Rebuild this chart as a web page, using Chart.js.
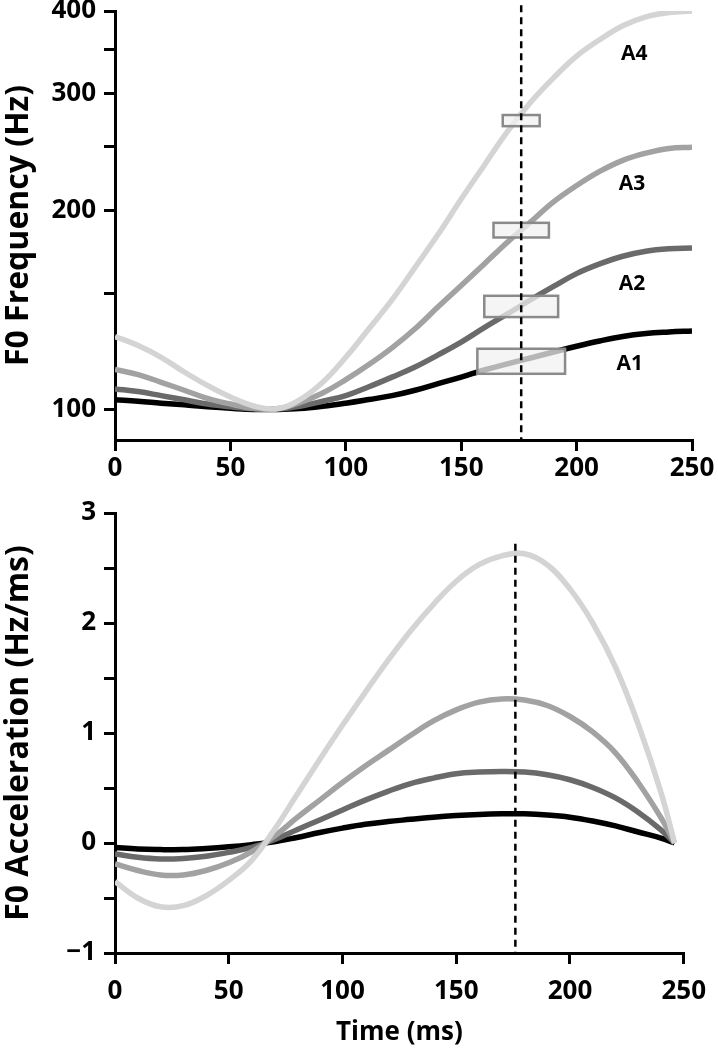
<!DOCTYPE html>
<html>
<head>
<meta charset="utf-8">
<script src="https://cdn.jsdelivr.net/npm/chart.js@4/dist/chart.umd.min.js"></script>
<style>
  body { margin: 0; background: #fff; }
  #wrap { position: relative; width: 718px; height: 1049px; }
  #topBox { position: absolute; left: 0; top: 0; width: 718px; height: 490px; }
  #botBox { position: absolute; left: 0; top: 490px; width: 718px; height: 559px; }
</style>
</head>
<body>
<div id="wrap">
  <div id="topBox"><canvas id="freqChart"></canvas></div>
  <div id="botBox"><canvas id="accChart"></canvas></div>
</div>
<script>
// time grid (ms)
var freqTimes = [0,10,20,30,40,50,60,70,80,90,100,110,120,130,140,150,160,170,180,190,200,210,220,230,240,250];
var accTimes  = [0,10,20,30,40,50,60,70,80,90,100,110,120,130,140,150,160,170,180,190,200,210,220,230,240,246];

// F0 (Hz), log axis
var freqA1 = [103.5,103,102.3,101.7,101,100.5,100.1,100.1,100.4,101.2,102.3,103.6,105,107,109.5,112,114.8,117.3,119.7,122.2,124.7,127,129,130.3,131,131.5];
var freqA2 = [107.5,106.5,105,103.5,102,101,100.3,100.2,101.2,103,105,108.3,112,116,121,126.5,133,139.5,146.5,153.5,160.5,166,170.5,173.5,175,175.5];
var freqA3 = [115,113,110,107,104,102,100.5,100.3,102.5,106,111,117,124,132.5,143,154,166,179,192,206,218,229,238,244,248,249];
var freqA4 = [129,125,120,114,108.8,104.5,101.3,100.3,103.5,110,120,132.5,146.5,164,184,208,234,263,291,317,342,362,380,392,398,400];

// F0 acceleration (Hz/ms)
var accA1 = [-0.04,-0.055,-0.06,-0.06,-0.05,-0.035,-0.015,0.01,0.05,0.095,0.135,0.17,0.195,0.215,0.235,0.25,0.26,0.265,0.265,0.255,0.235,0.2,0.155,0.1,0.045,0];
var accA2 = [-0.1,-0.13,-0.145,-0.14,-0.12,-0.085,-0.04,0.03,0.12,0.21,0.3,0.39,0.47,0.54,0.59,0.63,0.645,0.65,0.645,0.62,0.575,0.505,0.41,0.28,0.12,0];
var accA3 = [-0.19,-0.25,-0.29,-0.29,-0.25,-0.18,-0.08,0.06,0.23,0.39,0.55,0.7,0.84,0.98,1.11,1.21,1.28,1.31,1.3,1.25,1.15,1.01,0.82,0.55,0.23,0];
var accA4 = [-0.35,-0.5,-0.58,-0.57,-0.48,-0.34,-0.16,0.12,0.44,0.76,1.07,1.37,1.66,1.93,2.17,2.38,2.53,2.61,2.63,2.53,2.31,2.0,1.6,1.08,0.46,0];

var seriesNames = ['A1','A2','A3','A4'];
var seriesColors = ['#000000','#6a6a6a','#a2a2a2','#d4d4d4'];

// boxes around the dashed line (time range, Hz range)
var boxT0 = [157,160,164,168];
var boxT1 = [195,192,188,184];
var boxF0 = [113.3,138,182,268];
var boxF1 = [123.6,148.6,191.5,278.6];

// series labels (time, Hz)
var labelT = [223,224,224,225];
var labelF = [117.3,155,219,344];

var freqTicks = [100,150,200,250,300,350,400];
var freqMajor = [100,200,300,400];
var markerTime = 176;

var FONT = "'Open Sans', 'Noto Sans', sans-serif";

function buildSets(times, lists) {
  return lists.map(function (vals, i) {
    return {
      label: seriesNames[i],
      data: vals.map(function (v, j) { return { x: times[j], y: v }; }),
      borderColor: seriesColors[i],
      borderWidth: 5.5,
      pointRadius: 0,
      fill: false,
      tension: 0.4
    };
  }).reverse();
}

function axisStyle() {
  return {
    border: { display: true, color: '#000', width: 3 },
    grid: { display: true, drawOnChartArea: false, drawTicks: true, tickLength: 11, color: '#000', lineWidth: 3 }
  };
}

var dashLine = function (fromVal) {
  return function (chart) {
    var ctx = chart.ctx, xs = chart.scales.x, ys = chart.scales.y;
    var px = xs.getPixelForValue(markerTime);
    ctx.save();
    ctx.strokeStyle = '#000';
    ctx.lineWidth = 2.5;
    ctx.setLineDash([7, 5]);
    ctx.beginPath();
    ctx.moveTo(px, ys.getPixelForValue(fromVal));
    ctx.lineTo(px, ys.bottom);
    ctx.stroke();
    ctx.restore();
  };
};

var freqOverlay = {
  id: 'freqOverlay',
  afterDatasetsDraw: function (chart) {
    var ctx = chart.ctx, xs = chart.scales.x, ys = chart.scales.y;
    ctx.save();
    for (var i = 0; i < boxT0.length; i++) {
      var x0 = xs.getPixelForValue(boxT0[i]), x1 = xs.getPixelForValue(boxT1[i]);
      var y0 = ys.getPixelForValue(boxF1[i]), y1 = ys.getPixelForValue(boxF0[i]);
      ctx.fillStyle = 'rgba(242,242,242,0.75)';
      ctx.fillRect(x0, y0, x1 - x0, y1 - y0);
      ctx.strokeStyle = '#8a8a8a';
      ctx.lineWidth = 2.5;
      ctx.strokeRect(x0, y0, x1 - x0, y1 - y0);
    }
    ctx.fillStyle = '#000';
    ctx.font = 'bold 21px ' + FONT;
    ctx.textAlign = 'center';
    ctx.textBaseline = 'middle';
    for (var k = 0; k < labelT.length; k++) {
      ctx.fillText(seriesNames[k], xs.getPixelForValue(labelT[k]), ys.getPixelForValue(labelF[k]));
    }
    ctx.restore();
    dashLine(408)(chart);
  }
};

var accOverlay = {
  id: 'accOverlay',
  afterDatasetsDraw: function (chart) { dashLine(2.72)(chart); }
};

Chart.defaults.font.family = FONT;
Chart.defaults.color = '#000';

var xTickFont = { size: 26, weight: 'bold' };
// small line height keeps the top label from pushing the plot down
var yTickFont = { size: 26, weight: 'bold', lineHeight: 0.2 };
var titleFont = { size: 32, weight: 'bold' };

var xTop = Object.assign(axisStyle(), {
  type: 'linear', min: 0, max: 250,
  ticks: { stepSize: 50, font: xTickFont, padding: 2, maxRotation: 0 },
  afterFit: function (s) { s.height = 50; }
});
var yTop = Object.assign(axisStyle(), {
  type: 'logarithmic', min: 90, max: 400,
  afterBuildTicks: function (s) { s.ticks = freqTicks.map(function (v) { return { value: v }; }); },
  ticks: {
    font: yTickFont, padding: 8,
    callback: function (v) { return freqMajor.indexOf(v) >= 0 ? String(v) : ''; }
  },
  title: { display: true, text: 'F0 Frequency (Hz)', font: titleFont, padding: { top: 0, bottom: 0 } },
  afterFit: function (s) { s.width = 115; }
});

new Chart(document.getElementById('freqChart'), {
  type: 'line',
  data: { datasets: buildSets(freqTimes, [freqA1, freqA2, freqA3, freqA4]) },
  options: {
    responsive: true, maintainAspectRatio: false, animation: false,
    layout: { padding: { top: 11, right: 26, left: 0, bottom: 0 } },
    plugins: { legend: { display: false }, tooltip: { enabled: false } },
    scales: { x: xTop, y: yTop }
  },
  plugins: [freqOverlay]
});

var xBot = Object.assign(axisStyle(), {
  type: 'linear', min: 0, max: 250,
  ticks: { stepSize: 50, font: xTickFont, padding: 12, maxRotation: 0 },
  title: { display: true, text: 'Time (ms)', font: { size: 26, weight: 'bold' }, padding: { top: 0, bottom: 1 } },
  afterFit: function (s) { s.height = 96; }
});
var yBot = Object.assign(axisStyle(), {
  type: 'linear', min: -1, max: 3,
  ticks: {
    stepSize: 0.5, font: yTickFont, padding: 8,
    callback: function (v) {
      if (v % 1 !== 0) return '';
      return v < 0 ? '\u2212' + Math.abs(v) : String(v);
    }
  },
  title: { display: true, text: 'F0 Acceleration (Hz/ms)', font: titleFont, padding: { top: 0, bottom: 0 } },
  afterFit: function (s) { s.width = 115; }
});

new Chart(document.getElementById('accChart'), {
  type: 'line',
  data: { datasets: buildSets(accTimes, [accA1, accA2, accA3, accA4]) },
  options: {
    responsive: true, maintainAspectRatio: false, animation: false,
    layout: { padding: { top: 23, right: 26, left: 0, bottom: 0 } },
    plugins: { legend: { display: false }, tooltip: { enabled: false } },
    scales: { x: xBot, y: yBot }
  },
  plugins: [accOverlay]
});
</script>
</body>
</html>
